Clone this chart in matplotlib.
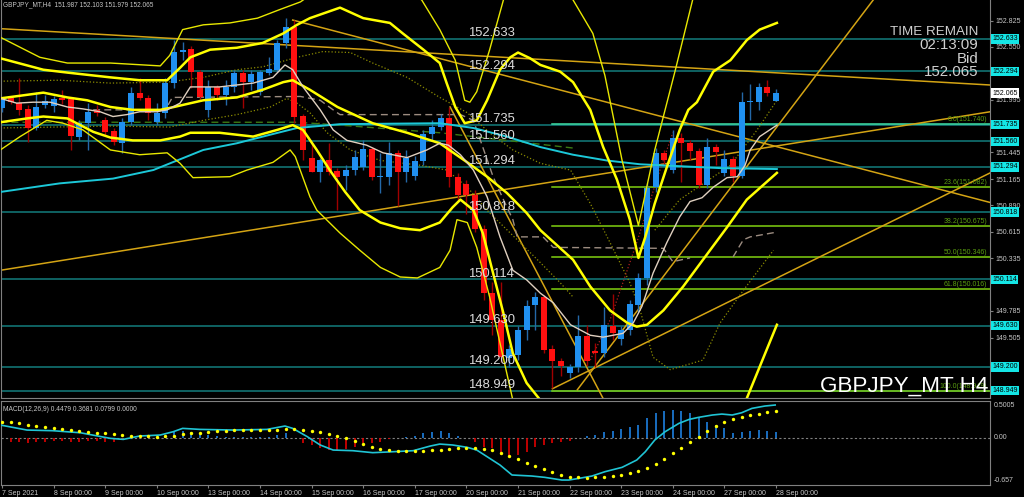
import numpy as np
import matplotlib.pyplot as plt
import matplotlib.transforms as mtransforms

plt.rcParams['font.family'] = ['Liberation Sans', 'DejaVu Sans']

# GBPJPY H4 candles, bar 0 = 7 Sep 00:00 ... bar 90 = 28 Sep 00:00
opens = [151.91, 152.01, 151.96, 151.90, 151.70, 151.94, 151.93, 152.01, 152.00, 151.61,
         151.75, 151.89, 151.78, 151.67, 151.54, 151.76, 152.07, 152.01, 151.76, 151.86,
         152.17, 152.50, 152.53, 152.29, 151.89, 152.13, 152.05, 152.13, 152.28, 152.18,
         152.08, 152.28, 152.31, 152.59, 152.76, 151.83, 151.39, 151.24, 151.36, 151.25,
         151.20, 151.26, 151.29, 151.48, 151.19, 151.19, 151.44, 151.24, 151.20, 151.35,
         151.64, 151.71, 151.80, 151.19, 151.11, 151.00, 150.64, 149.97, 149.69, 149.29,
         149.32, 149.58, 149.85, 149.93, 149.39, 149.26, 149.13, 149.20, 149.52, 149.36,
         149.34, 149.63, 149.49, 149.59, 149.85, 150.13, 151.08, 151.44, 151.26, 151.60,
         151.54, 151.46, 151.10, 151.50, 151.23, 151.38, 151.20, 151.97, 151.97, 152.13,
         151.987]
highs = [152.02, 152.03, 152.22, 151.94, 152.08, 152.05, 152.03, 152.10, 152.02, 151.78,
         151.96, 151.94, 151.82, 151.70, 151.80, 152.13, 152.22, 152.05, 151.96, 152.22,
         152.62, 152.60, 152.56, 152.31, 152.20, 152.15, 152.20, 152.31, 152.31, 152.31,
         152.31, 152.44, 152.62, 152.85, 152.83, 151.85, 151.54, 151.39, 151.54, 151.28,
         151.31, 151.47, 151.57, 151.50, 151.44, 151.55, 151.47, 151.47, 151.41, 151.68,
         151.78, 151.85, 151.92, 151.23, 151.16, 151.05, 150.68, 150.09, 150.09, 149.43,
         149.63, 149.90, 149.98, 149.95, 149.43, 149.29, 149.23, 149.74, 149.64, 149.45,
         149.83, 149.96, 149.63, 149.90, 150.18, 151.12, 151.49, 151.47, 151.68, 151.65,
         151.57, 151.49, 151.60, 151.53, 151.47, 151.41, 152.08, 152.16, 152.17, 152.20,
         152.103]
lows = [151.87, 151.95, 151.84, 151.55, 151.68, 151.91, 151.87, 151.95, 151.47, 151.57,
        151.47, 151.83, 151.63, 151.52, 151.44, 151.73, 151.99, 151.78, 151.73, 151.80,
        152.12, 152.41, 152.12, 151.99, 151.82, 151.99, 151.94, 152.08, 151.91, 152.10,
        152.05, 152.25, 152.29, 152.54, 151.75, 151.36, 151.24, 151.13, 151.21, 150.84,
        151.05, 151.21, 151.26, 151.16, 151.02, 151.10, 150.88, 151.13, 151.16, 151.31,
        151.57, 151.68, 151.08, 150.95, 150.80, 150.61, 149.90, 149.53, 149.25, 149.20,
        149.27, 149.48, 149.59, 149.34, 148.98, 149.10, 149.08, 149.15, 149.21, 149.20,
        149.30, 149.48, 149.43, 149.53, 149.77, 150.06, 151.03, 151.31, 151.23, 151.13,
        151.36, 151.07, 151.07, 151.31, 151.20, 151.13, 151.18, 151.78, 151.89, 152.04,
        151.979]
closes = [151.99, 151.97, 151.89, 151.70, 151.92, 151.98, 152.00, 151.99, 151.62, 151.75,
          151.87, 151.86, 151.66, 151.55, 151.76, 152.07, 152.01, 151.86, 151.86, 152.17,
          152.50, 152.52, 152.29, 152.02, 152.13, 152.05, 152.13, 152.28, 152.18, 152.27,
          152.29, 152.32, 152.59, 152.76, 151.82, 151.47, 151.24, 151.36, 151.24, 151.19,
          151.26, 151.40, 151.48, 151.19, 151.20, 151.44, 151.24, 151.39, 151.35, 151.64,
          151.71, 151.80, 151.19, 151.00, 151.00, 150.64, 149.97, 149.69, 149.30, 149.39,
          149.58, 149.84, 149.93, 149.38, 149.26, 149.21, 149.20, 149.52, 149.26, 149.34,
          149.64, 149.55, 149.59, 149.86, 150.13, 151.07, 151.44, 151.37, 151.60, 151.54,
          151.46, 151.10, 151.50, 151.45, 151.38, 151.20, 151.97, 151.98, 152.13, 152.07,
          152.065]

date_labels = ["7 Sep 2021", "8 Sep 00:00", "9 Sep 00:00", "10 Sep 00:00", "13 Sep 00:00",
               "14 Sep 00:00", "15 Sep 00:00", "16 Sep 00:00", "17 Sep 00:00", "20 Sep 00:00",
               "21 Sep 00:00", "22 Sep 00:00", "23 Sep 00:00", "24 Sep 00:00", "27 Sep 00:00",
               "28 Sep 00:00"]

# horizontal levels and fibonacci retracement
levels = [152.633, 152.294, 151.735, 151.560, 151.294, 150.818, 150.114, 149.630, 149.200, 148.949]
fib_pct = ["0.0", "23.6", "38.2", "50.0", "61.8", "100.0"]
fib_price = [151.740, 151.082, 150.675, 150.346, 150.016, 148.949]
# scale labels that are not hidden behind the level boxes
price_ticks = [152.825, 152.550, 151.995, 151.445, 151.165, 150.890,
               150.615, 150.335, 149.785, 149.505]

# indicator lines as (bar, price); None = off chart
bb_thick_up = [(-0.2, 152.43), (4.8, 152.31), (7.6, 152.28), (12.6, 152.23), (16.0, 152.20),
               (19.2, 152.20), (20.7, 152.33), (21.9, 152.44), (24.2, 152.52), (27.3, 152.54),
               (30.3, 152.59), (32.7, 152.69), (34.3, 152.78), (35.8, 152.85), (39.3, 152.96),
               (42.0, 152.85), (45.1, 152.80), (46.6, 152.69), (49.0, 152.52), (50.9, 152.38),
               (51.7, 152.17), (52.7, 151.92), (53.8, 151.75), (55.2, 151.78), (56.4, 151.99),
               (57.9, 152.31), (59.1, 152.44), (60.0, 152.49), (61.4, 152.43), (62.6, 152.36),
               (64.9, 152.29), (66.4, 152.18), (68.4, 151.89), (69.9, 151.50), (71.5, 151.16),
               (73.0, 150.74), (74.0, 150.34), (74.8, 150.56), (75.9, 150.91), (77.3, 151.29),
               (78.8, 151.68), (79.8, 151.89), (80.8, 151.97), (82.7, 152.29), (84.7, 152.41),
               (86.6, 152.62), (88.1, 152.73), (90.1, 152.80)]
bb_thick_mid = [(-0.2, 152.01), (4.8, 152.07), (7.6, 152.02), (9.9, 151.99), (12.6, 151.92),
                (15.2, 151.89), (18.4, 151.89), (19.5, 151.91), (23.4, 151.99), (27.3, 152.02),
                (30.3, 152.10), (32.7, 152.18), (33.8, 152.20), (35.8, 152.10), (39.0, 151.92),
                (43.1, 151.75), (47.1, 151.65), (50.9, 151.54), (54.1, 151.34), (56.4, 151.19),
                (58.7, 151.02), (61.0, 150.81), (62.6, 150.63), (66.4, 150.32), (68.4, 150.04),
                (70.7, 149.79), (72.7, 149.66), (73.8, 149.62), (75.0, 149.64), (76.9, 149.79),
                (79.2, 150.04), (81.5, 150.32), (84.3, 150.66), (86.6, 150.95), (90.1, 151.23)]
bb_thick_low = [(-0.2, 151.76), (2.9, 151.80), (4.8, 151.82), (7.6, 151.80), (10.6, 151.66),
                (12.6, 151.60), (15.2, 151.57), (18.4, 151.57), (20.7, 151.61), (21.9, 151.65),
                (25.3, 151.65), (29.2, 151.61), (32.0, 151.68), (33.8, 151.73), (35.0, 151.68),
                (36.6, 151.47), (38.1, 151.26), (39.9, 151.03), (41.6, 150.84), (44.0, 150.71),
                (46.3, 150.65), (48.6, 150.63), (50.9, 150.71), (52.4, 150.87), (53.3, 150.95),
                (54.8, 150.84), (55.9, 150.60), (57.1, 150.18), (58.3, 149.76), (59.4, 149.34),
                (61.0, 149.03), (62.6, 148.85), (64.3, 148.59), None,
                (85.2, 148.54), (86.6, 148.87), (88.1, 149.20), (90.1, 149.64)]
bb_thin_up = [(-0.2, 152.65), (4.4, 152.44), (7.6, 152.38), (12.6, 152.38), (18.4, 152.35),
              (19.5, 152.46), (21.0, 152.73), (23.4, 152.78), (26.5, 152.80), (29.7, 152.85),
              (32.3, 152.94), (34.7, 153.02), (35.8, 153.09), None,
              (48.0, 153.09), (48.8, 153.04), (50.9, 152.73), (52.7, 152.41), (53.8, 151.99),
              (54.4, 151.97), (55.2, 152.08), (56.7, 152.52), (58.3, 153.04), (58.8, 153.14), None,
              (65.8, 153.14), (66.4, 153.04), (68.7, 152.69), (70.1, 152.25), (72.1, 151.36),
              (74.0, 150.68), (75.9, 151.47), (78.3, 152.31), (80.3, 153.04), (80.9, 153.14)]
bb_thin_low = [(-0.2, 151.47), (2.1, 151.61), (5.2, 151.78), (7.1, 151.75), (9.4, 151.68),
               (12.6, 151.47), (16.0, 151.42), (19.2, 151.44), (20.7, 151.33), (22.2, 151.18),
               (26.5, 151.19), (28.5, 151.26), (31.5, 151.34), (33.5, 151.47), (34.1, 151.40),
               (35.8, 150.98), (36.6, 150.84), (39.3, 150.60), (41.6, 150.42), (44.0, 150.24),
               (46.3, 150.14), (48.3, 150.13), (50.9, 150.24), (52.1, 150.42), (52.9, 150.74),
               (54.1, 150.71), (55.2, 150.45), (56.7, 149.93), (57.9, 149.45), (59.4, 148.85),
               (60.0, 148.64)]
ma_fast = [(-0.2, 152.01), (1.7, 151.96), (3.6, 151.97), (5.6, 151.97), (7.6, 151.92),
           (9.4, 151.90), (11.4, 151.87), (12.9, 151.82), (14.5, 151.84), (16.0, 151.87),
           (18.0, 151.87), (19.2, 151.89), (20.7, 151.96), (21.9, 152.13), (25.3, 152.13),
           (29.2, 152.17), (31.5, 152.23), (32.9, 152.36), (33.8, 152.31), (35.0, 152.13),
           (37.0, 151.89), (38.5, 151.68), (40.1, 151.57), (42.4, 151.52), (44.3, 151.44),
           (47.1, 151.39), (49.4, 151.47), (50.9, 151.54), (51.9, 151.52), (53.3, 151.42),
           (54.8, 151.26), (56.4, 150.98), (57.9, 150.56), (59.4, 150.21), (61.0, 150.11),
           (62.6, 149.97), (64.1, 149.87), (66.1, 149.64), (68.4, 149.53), (69.9, 149.51),
           (72.2, 149.55), (73.4, 149.66), (74.4, 149.83), (75.7, 150.18), (77.3, 150.50),
           (78.8, 150.77), (80.0, 150.93), (81.4, 150.97), (82.7, 151.08), (84.3, 151.18),
           (85.5, 151.19), (86.4, 151.31), (87.0, 151.47), (88.1, 151.61), (90.1, 151.73)]
ma_slow = [(-0.2, 151.03), (6.7, 151.12), (12.9, 151.17), (17.6, 151.26), (23.4, 151.47),
           (27.3, 151.54), (31.2, 151.63), (34.3, 151.70), (39.3, 151.74), (50.9, 151.75),
           (54.8, 151.70), (58.7, 151.61), (62.6, 151.50), (66.4, 151.42), (70.3, 151.36),
           (74.2, 151.32), (78.8, 151.30), (83.5, 151.28), (90.1, 151.27)]
kijun = [(10.6, 151.89), (19.0, 151.89), (19.8, 152.02), (34.7, 152.03), (37.0, 151.99),
         (38.5, 151.89), (39.3, 151.84), (53.3, 151.84), (54.8, 151.78), (55.9, 151.50),
         (57.1, 151.19), (58.3, 150.95), (59.4, 150.74), (59.9, 150.56), (62.9, 150.56),
         (64.1, 150.45), (76.9, 150.44), (78.0, 150.30), (80.0, 150.34), None,
         (85.0, 150.35), (86.2, 150.53), (87.0, 150.56), (90.1, 150.61)]
green_dash = [(-0.2, 151.76), (34.3, 151.76), (39.3, 151.73), (50.9, 151.65),
              (58.7, 151.57), (66.4, 151.49)]
dot_a = [(-0.2, 152.19), (6.7, 152.20), (12.6, 152.17), (19.2, 152.18), (23.4, 152.23),
         (27.3, 152.31), (30.3, 152.34), (34.3, 152.44), (37.3, 152.50), (40.5, 152.49),
         (43.1, 152.38), (47.1, 152.23), (50.9, 152.02), (54.1, 151.86), (56.7, 151.65),
         (59.4, 151.47), (62.6, 151.33), (66.1, 151.26), (68.4, 150.91), (70.7, 150.50),
         (73.0, 150.08), (74.2, 149.79), (75.7, 149.30), (77.7, 149.17), (81.5, 149.27),
         (83.5, 149.66), (86.2, 150.00), (89.7, 150.42)]
dot_b = [(-0.2, 151.70), (12.6, 151.72), (19.5, 151.71), (23.4, 151.78), (27.3, 151.84),
         (31.2, 151.92), (33.1, 152.01), (34.3, 151.96), (35.8, 151.86), (37.8, 151.65),
         (40.5, 151.47), (44.0, 151.36), (48.6, 151.31), (51.7, 151.26), (54.1, 151.08),
         (56.7, 150.81), (59.9, 150.53), (62.6, 150.29), (64.9, 150.08), (66.4, 149.93)]
dot_c = [(75.9, 150.63), (78.8, 150.95), (84.7, 151.31), (87.8, 151.68), (90.1, 151.99)]
dot_red = [(68.4, 149.27), (70.7, 149.69), (73.8, 150.50), (76.5, 151.26), (78.0, 151.65)]

# trend lines (two anchors each: bar, price)
trend_lines = [((-0.2, 152.74), (114.9, 152.15)),
               ((33.8, 152.83), (114.9, 150.92)),
               ((-0.2, 150.21), (114.9, 151.87)),
               ((52.1, 151.92), (70.0, 148.85)),
               ((64.0, 148.97), (114.9, 151.23)),
               ((66.9, 148.96), (101.3, 153.04))]

# MACD panel
macd_hist = [0.0, -0.055, -0.055, -0.078, -0.055, -0.055, -0.041, -0.041, -0.055, -0.055,
             -0.046, -0.041, -0.055, -0.055, -0.032, -0.010, -0.005, 0.005, 0.010, 0.020,
             0.082, 0.096, 0.082, 0.059, 0.037, 0.020, 0.010, 0.008, 0.005, 0.008,
             0.010, 0.015, 0.037, 0.068, -0.010, -0.078, -0.100, -0.146, -0.169, -0.169,
             -0.160, -0.132, -0.078, -0.068, -0.055, -0.023, -0.010, 0.005, 0.023, 0.059,
             0.082, 0.096, 0.068, 0.027, -0.010, -0.055, -0.123, -0.146, -0.237, -0.260,
             -0.237, -0.192, -0.123, -0.100, -0.078, -0.064, -0.041, -0.005, 0.023, 0.037,
             0.073, 0.096, 0.119, 0.142, 0.174, 0.265, 0.342, 0.370, 0.379, 0.370,
             0.333, 0.265, 0.219, 0.174, 0.128, 0.068, 0.082, 0.091, 0.105, 0.091,
             0.080]
macd_signal = [0.219, 0.210, 0.196, 0.178, 0.164, 0.146, 0.128, 0.119, 0.105, 0.087,
               0.078, 0.068, 0.059, 0.046, 0.037, 0.027, 0.023, 0.018, 0.014, 0.018,
               0.027, 0.046, 0.059, 0.068, 0.078, 0.087, 0.096, 0.105, 0.110, 0.110,
               0.110, 0.105, 0.110, 0.114, 0.114, 0.105, 0.096, 0.073, 0.050, 0.027,
               -0.009, -0.046, -0.087, -0.123, -0.155, -0.169, -0.178, -0.187, -0.187, -0.183,
               -0.174, -0.164, -0.155, -0.146, -0.142, -0.142, -0.151, -0.174, -0.205, -0.251,
               -0.297, -0.342, -0.393, -0.434, -0.475, -0.507, -0.534, -0.543, -0.548, -0.543,
               -0.534, -0.525, -0.516, -0.489, -0.461, -0.411, -0.361, -0.292, -0.210, -0.142,
               -0.059, 0.014, 0.087, 0.155, 0.215, 0.251, 0.279, 0.311, 0.329, 0.347,
               0.368]
macd_main = [(-0.2, 0.174), (2.9, 0.105), (5.9, 0.096), (9.1, 0.068), (12.6, -0.009),
             (14.1, -0.023), (16.0, 0.023), (18.4, 0.037), (19.9, 0.082), (21.0, 0.128),
             (23.0, 0.114), (26.9, 0.105), (30.8, 0.114), (32.9, 0.160), (33.8, 0.128),
             (35.5, 0.014), (37.0, -0.100), (38.5, -0.169), (40.8, -0.178), (43.1, -0.205),
             (44.8, -0.196), (47.8, -0.178), (49.8, -0.114), (50.9, -0.087), (52.4, -0.100),
             (54.1, -0.132), (55.2, -0.169), (56.4, -0.260), (57.9, -0.374), (59.3, -0.511),
             (61.6, -0.525), (63.1, -0.543), (65.1, -0.580), (65.9, -0.580), (67.1, -0.557),
             (68.6, -0.525), (70.1, -0.466), (72.1, -0.406), (73.8, -0.306), (74.8, -0.192),
             (75.9, -0.032), (77.1, 0.082), (78.7, 0.196), (79.9, 0.251), (81.0, 0.279),
             (82.6, 0.311), (83.7, 0.324), (84.9, 0.311), (86.0, 0.342), (87.2, 0.402),
             (88.7, 0.434), (89.9, 0.448)]


def draw(ax, pts, **kw):
    xs = [np.nan if p is None else p[0] for p in pts]
    ys = [np.nan if p is None else p[1] for p in pts]
    ax.plot(xs, ys, **kw)


GRID = '#808080'
TXT = '#C8C8C8'

fig = plt.figure(figsize=(10.24, 4.97), dpi=100, facecolor='black')
ax = fig.add_axes([1 / 1024, 99 / 497, 989 / 1024, 398 / 497], facecolor='black')
ax2 = fig.add_axes([1 / 1024, 12 / 497, 989 / 1024, 84 / 497], facecolor='black')

xmin, xmax = -0.12, 114.88
ax.set_xlim(xmin, xmax)
ax.set_ylim(148.873, 153.04)

# horizontal levels
for lv in levels:
    ax.axhline(lv, color='#117373', lw=1.2, zorder=1)
    ax.text(54.2, lv + 0.025, f"{lv:.3f}", color='#DCDCDC', fontsize=9.4,
            ha='left', va='baseline', zorder=6)

# fibonacci
for pct, fp in zip(fib_pct, fib_price):
    col = '#3FE0A8' if pct == "0.0" else '#80D010'
    ax.plot([63.95, xmax], [fp, fp], color=col, lw=1.1, zorder=1.5)
    ax.text(114.6, fp + 0.01, f"{pct}({fp:.3f})", color='#5A9E10', fontsize=5,
            ha='right', va='bottom', zorder=6)

# trend lines
for (x0, y0), (x1, y1) in trend_lines:
    ax.plot([x0, x1], [y0, y1], color='#D4A414', lw=1.1, zorder=2)

# indicators
draw(ax, green_dash, color='#3C7A14', lw=1.0, ls=(0, (5, 3)), zorder=2)
draw(ax, kijun, color='#9C8C80', lw=1.0, ls=(0, (5, 3)), zorder=2)
draw(ax, dot_a, color='#8C8C00', lw=0.9, ls=':', zorder=2)
draw(ax, dot_b, color='#8C8C00', lw=0.9, ls=':', zorder=2)
draw(ax, dot_c, color='#8C8C00', lw=0.9, ls=':', zorder=2)
draw(ax, dot_red, color='#B02020', lw=0.9, ls=':', zorder=2)
draw(ax, ma_slow, color='#1CC8D8', lw=1.4, zorder=4)
draw(ax, bb_thin_up, color='#E8E800', lw=1.0, zorder=4)
draw(ax, bb_thin_low, color='#E8E800', lw=1.0, zorder=4)
draw(ax, bb_thick_up, color='#FFFF00', lw=1.8, zorder=4)
draw(ax, bb_thick_mid, color='#FFFF00', lw=1.8, zorder=4)
draw(ax, bb_thick_low, color='#FFFF00', lw=1.8, zorder=4)
draw(ax, ma_fast, color='#E0D0C0', lw=1.0, zorder=4)

# candles
idx = np.arange(len(opens))
o = np.array(opens)
c = np.array(closes)
up = c >= o
body_col = np.where(up, '#2090F0', '#FF1010')
wick_col = np.where(up, '#2468A8', '#A00000')
ax.vlines(idx, lows, highs, colors=wick_col, lw=1.0, zorder=3)
ax.bar(idx, np.maximum(np.abs(c - o), 0.01), bottom=np.minimum(o, c), width=0.7,
       color=body_col, zorder=3.5)

# price scale
ax.yaxis.tick_right()
ax.set_yticks(price_ticks)
ax.set_yticklabels([f"{t:.3f}" for t in price_ticks])
ax.tick_params(axis='y', colors=GRID, labelcolor=TXT, labelsize=5, length=2, pad=2)
ax.set_xticks([])
ax.spines['top'].set_visible(False)
for s in ['left', 'right', 'bottom']:
    ax.spines[s].set_color(GRID)

tr = mtransforms.blended_transform_factory(ax.transAxes, ax.transData)
for lv in levels:
    ax.text(1.0025, lv, f"{lv:.3f}", transform=tr, color='black', fontsize=5,
            ha='left', va='center', zorder=10, clip_on=False,
            bbox=dict(boxstyle='square,pad=0.18', fc='#14E6E6', ec='none'))
ax.text(1.0025, closes[-1], f"{closes[-1]:.3f}", transform=tr, color='black', fontsize=5,
        ha='left', va='center', zorder=10, clip_on=False,
        bbox=dict(boxstyle='square,pad=0.18', fc='white', ec='none'))

# texts
ax.text(2 / 989, 1 - 5 / 398,
        f"GBPJPY_MT,H4  {opens[-1]:.3f} {highs[-1]:.3f} {lows[-1]:.3f} {closes[-1]:.3f}",
        transform=ax.transAxes, color=TXT, fontsize=4.7, ha='left', va='center')
ax.text(977 / 989, 1 - 32 / 398, "TIME REMAIN", transform=ax.transAxes, color='#D0D0D0',
        fontsize=9.6, ha='right', va='center', zorder=8)
for txt, ypx in [("02:13:09", 45), ("Bid", 59), (f"{closes[-1]:.3f}", 72)]:
    ax.text(977 / 989, 1 - ypx / 398, txt, transform=ax.transAxes, color='#D0D0D0',
            fontsize=10.8, ha='right', va='center', zorder=8)
ax.text(987 / 989, 1 - 386.5 / 398, "GBPJPY_MT H4", transform=ax.transAxes,
        color='white', fontsize=16.2, ha='right', va='center', zorder=8)

# MACD panel
ax2.set_xlim(xmin, xmax)
ax2.set_ylim(-0.648, 0.503)
ax2.axhline(0, color=GRID, lw=0.8, ls=(0, (2, 2)), zorder=1)
h = np.array(macd_hist)
ax2.vlines(idx, 0, h, colors=np.where(h >= 0, '#1E80E0', '#E00000'), lw=1.2, zorder=2)
draw(ax2, macd_main, color='#20C4D4', lw=1.2, zorder=3)
ax2.scatter(idx, macd_signal, s=6, color='#FFFF00', zorder=4, linewidths=0)
ax2.text(2 / 989, 0.9, "MACD(12,26,9) 0.4479 0.3681 0.0799 0.0000", transform=ax2.transAxes,
         color=TXT, fontsize=4.8, ha='left', va='center')
tr2 = mtransforms.blended_transform_factory(ax2.transAxes, ax2.transData)
for val, lab in [(0.445, "0.5005"), (0.0, "0.00"), (-0.59, "-0.657")]:
    ax2.text(1.004, val, lab, transform=tr2, color=TXT, fontsize=5, ha='left',
             va='center', clip_on=False)
ax2.set_yticks([])
ax2.set_xticks(np.arange(0, 91, 6))
ax2.set_xticklabels(date_labels, ha='left')
ax2.tick_params(axis='x', colors=GRID, labelcolor=TXT, labelsize=5, length=2, pad=1.5)
for s in ax2.spines.values():
    s.set_color(GRID)

fig.savefig("out.png", dpi=100, facecolor='black')
